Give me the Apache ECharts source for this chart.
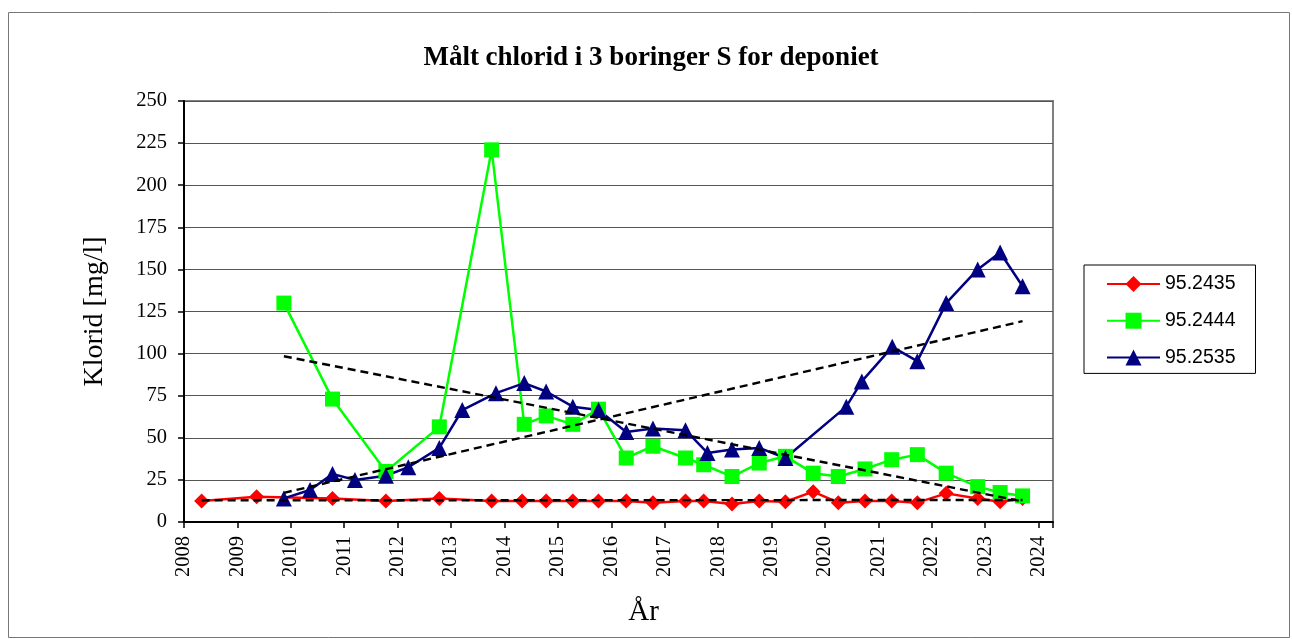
<!DOCTYPE html>
<html><head><meta charset="utf-8">
<script src="https://cdn.jsdelivr.net/npm/echarts@6/dist/echarts.min.js"></script>
<style>html,body{margin:0;padding:0;background:#fff}#c{width:1292px;height:639px}</style>
</head><body><div id="c"></div>
<script>
const titleText = 'Målt chlorid i 3 boringer S for deponiet';
const yName = 'Klorid [mg/l]';
const xName = 'År';
const seriesNames = ['95.2435', '95.2444', '95.2535'];

const redX = [2008.33, 2009.36, 2010.78, 2011.78, 2012.78, 2013.76, 2014.33, 2014.78, 2015.28, 2015.76, 2016.28, 2016.78, 2017.39, 2017.73, 2018.26, 2018.77, 2019.26, 2019.78, 2020.25, 2020.75, 2021.25, 2021.73, 2022.27, 2022.86, 2023.28, 2023.70];
const redY = [12.5, 15, 14, 12.5, 14, 12.5, 12.5, 12.5, 12.5, 12.5, 12.5, 11.5, 12.5, 12.5, 10.7, 12.5, 12, 18, 11.5, 12.5, 12.5, 11.5, 17, 14, 12, 14];

const greenX = [2009.87, 2010.78, 2011.78, 2012.78, 2013.76, 2014.37, 2014.78, 2015.28, 2015.76, 2016.28, 2016.78, 2017.39, 2017.73, 2018.26, 2018.77, 2019.26, 2019.78, 2020.25, 2020.75, 2021.25, 2021.73, 2022.27, 2022.86, 2023.28, 2023.70];
const greenY = [130, 73, 30, 56.5, 221, 58, 63, 58, 67, 38, 45, 38, 34, 27, 35, 39, 29, 27, 31.5, 37, 40, 29, 21, 17.5, 15.5];

const blueX = [2009.87, 2010.36, 2010.78, 2011.2, 2011.78, 2012.2, 2012.78, 2013.21, 2013.84, 2014.37, 2014.78, 2015.28, 2015.76, 2016.28, 2016.78, 2017.39, 2017.8, 2018.26, 2018.77, 2019.26, 2020.40, 2020.69, 2021.26, 2021.73, 2022.27, 2022.86, 2023.28, 2023.70];
const blueY = [14, 19, 28.5, 25, 27.5, 32.5, 44, 66.5, 76.5, 82.5, 77.5, 68.5, 66.5, 53.5, 55.5, 54.5, 41, 43, 44, 38, 68.5, 83.5, 104, 95.5, 130, 150, 160, 140];

const yTicks = {min: 0, max: 250, step: 25};
const xTicks = {min: 2008, max: 2024.27, step: 1};

function zip(xs, ys) { return xs.map((x, i) => [x, ys[i]]); }
function trend(xs, ys) {
  const n = xs.length;
  const mx = xs.reduce((a, b) => a + b, 0) / n;
  const my = ys.reduce((a, b) => a + b, 0) / n;
  let sxy = 0, sxx = 0;
  for (let i = 0; i < n; i++) { sxy += (xs[i] - mx) * (ys[i] - my); sxx += (xs[i] - mx) ** 2; }
  const b = sxy / sxx, a = my - b * mx;
  const x0 = Math.min(...xs), x1 = Math.max(...xs);
  return [[x0, a + b * x0], [x1, a + b * x1]];
}

const serif = 'Liberation Serif, Times New Roman, serif';
const chart = echarts.init(document.getElementById('c'), null, {renderer: 'canvas'});

function dataSeries(name, xs, ys, color, symbol, size) {
  return {
    name, type: 'line', data: zip(xs, ys), symbol, symbolSize: size,
    lineStyle: {color, width: 2.5}, itemStyle: {color},
    z: 3, animation: false
  };
}
function trendSeries(xs, ys) {
  return {
    name: 'trend', type: 'line', data: trend(xs, ys), symbol: 'none',
    lineStyle: {color: '#000', width: 2.4, type: [8, 5]}, z: 4, animation: false, silent: true
  };
}

chart.setOption({
  backgroundColor: '#fff',
  animation: false,
  title: {
    text: titleText, left: 646, top: 40, textAlign: 'center',
    textStyle: {fontFamily: serif, fontWeight: 'bold', fontSize: 27, color: '#000'}
  },
  graphic: [{
    type: 'rect', shape: {x: 8.5, y: 12.5, width: 1281, height: 625},
    style: {fill: 'none', stroke: '#777', lineWidth: 1}, silent: true, z: -10
  }, {
    type: 'text', x: 643.5, y: 612,
    style: {text: xName, font: '29px ' + serif, fill: '#000', textAlign: 'center', textVerticalAlign: 'middle'},
    silent: true
  }],
  legend: {
    orient: 'vertical', left: 1084, top: 265,
    data: seriesNames,
    borderColor: '#000', borderWidth: 1,
    padding: [9, 20, 6, 22],
    itemWidth: 53, itemHeight: 20, itemGap: 16.7,
    textStyle: {fontFamily: 'Liberation Sans, Arial, sans-serif', fontSize: 19.5, color: '#000'}
  },
  grid: {
    left: 184, top: 101, right: 239, bottom: 117, containLabel: false,
    show: true, borderColor: '#808080', borderWidth: 2, backgroundColor: 'transparent'
  },
  xAxis: {
    type: 'value', min: xTicks.min, max: xTicks.max, interval: xTicks.step,
    axisLine: {show: true, onZero: false, lineStyle: {color: '#000', width: 2}},
    axisTick: {show: true, inside: false, length: 6, lineStyle: {color: '#000', width: 1.5}},
    splitLine: {show: false},
    axisLabel: {
      rotate: 90, margin: 14, fontFamily: serif, fontSize: 20.5, color: '#000',
      formatter: v => (Math.abs(v - Math.round(v)) < 1e-6 ? String(Math.round(v)) : '')
    }
  },
  yAxis: {
    type: 'value', min: yTicks.min, max: yTicks.max, interval: yTicks.step,
    name: yName, nameLocation: 'middle', nameGap: 75, nameRotate: 90,
    nameTextStyle: {fontFamily: serif, fontSize: 28, color: '#000'},
    axisLine: {show: true, lineStyle: {color: '#000', width: 2}},
    axisTick: {show: true, inside: false, length: 6, lineStyle: {color: '#000', width: 1.5}},
    splitLine: {show: true, lineStyle: {color: '#555', width: 1.2}},
    axisLabel: {margin: 17, fontFamily: serif, fontSize: 20.5, color: '#000'}
  },
  series: [
    dataSeries(seriesNames[0], redX, redY, '#ff0000', 'diamond', 15),
    dataSeries(seriesNames[1], greenX, greenY, '#00ff00', 'rect', 15),
    dataSeries(seriesNames[2], blueX, blueY, '#000080', 'triangle', 16),
    trendSeries(redX, redY),
    trendSeries(greenX, greenY),
    trendSeries(blueX, blueY)
  ]
});
</script></body></html>
